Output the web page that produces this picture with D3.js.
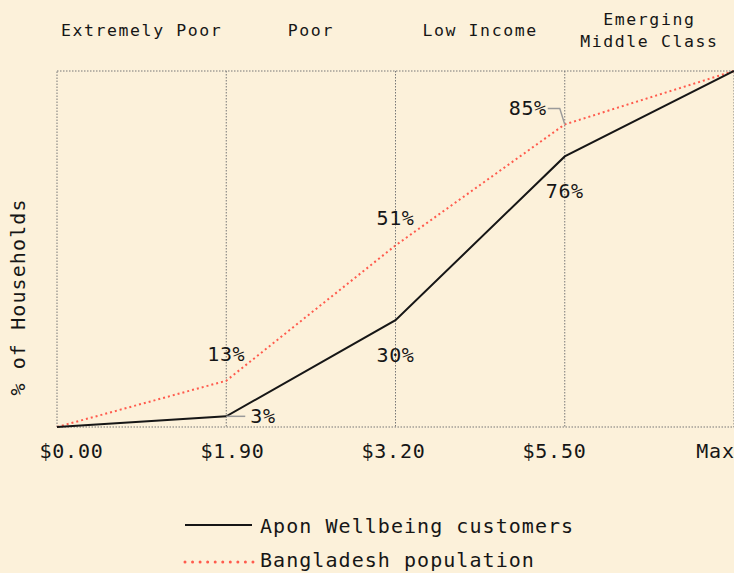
<!DOCTYPE html>
<html><head><meta charset="utf-8">
<script src="https://cdn.jsdelivr.net/npm/d3@7"></script>
<style>
html,body{margin:0;padding:0;background:#fcf1da;}
svg{display:block;font-family:"DejaVu Sans Mono",monospace;}
</style></head><body>
<svg id="c" width="734" height="573"></svg>
<script>
const xLabels = ["$0.00","$1.90","$3.20","$5.50","Max"];
const categories = [["Extremely Poor"],["Poor"],["Low Income"],["Emerging","Middle Class"]];
const aponValues = [0,3,30,76,100];
const bdValues = [0,13,51,85,100];
const seriesNames = ["Apon Wellbeing customers","Bangladesh population"];

const svg = d3.select("#c");
const m={l:57,r:734,t:71,b:427};
const x = d3.scalePoint().domain(xLabels).range([m.l,m.r]);
const xText = d3.scalePoint().domain(xLabels).range([71,715]);
const y = d3.scaleLinear().domain([0,100]).range([m.b,m.t]);
const red="#ff5b4d", ink="#161616";

// frame
svg.append("rect").attr("x",m.l).attr("y",m.t).attr("width",m.r-m.l).attr("height",m.b-m.t)
 .attr("fill","none").attr("stroke","#777").attr("stroke-width",1).attr("stroke-dasharray","1.5,1.5");
// vertical grid
svg.append("g").selectAll("line").data(xLabels.slice(1,4)).join("line")
 .attr("x1",d=>x(d)).attr("x2",d=>x(d)).attr("y1",m.t).attr("y2",m.b)
 .attr("stroke","#777").attr("stroke-width",1).attr("stroke-dasharray","1.5,1.5");

// x axis labels
const xa = d3.axisBottom(xText).tickSize(0).tickPadding(17);
const gx = svg.append("g").attr("transform",`translate(0,${m.b})`).call(xa);
gx.select(".domain").remove();
gx.selectAll("text").attr("font-size",20).attr("letter-spacing",0.8).attr("fill",ink)
 .attr("font-family","'DejaVu Sans Mono',monospace");

// categories
categories.forEach((c,i)=>{
  const cx=(x(xLabels[i])+x(xLabels[i+1]))/2;
  const t=svg.append("text").attr("x",cx).attr("text-anchor","middle").attr("font-size",16.5)
   .attr("letter-spacing",1.6).attr("fill",ink);
  if(c.length===1){t.attr("y",36).text(c[0]);}
  else{
    c.forEach((s,j)=>t.append("tspan").attr("x",cx).attr("y",25+j*22).text(s));
  }
});

// y label
svg.append("text").attr("transform",`translate(25,${(m.t+m.b)/2+48}) rotate(-90)`)
 .attr("text-anchor","middle").attr("font-size",20).attr("letter-spacing",1.1).attr("fill",ink)
 .text("% of Households");

const line = d3.line().x((d,i)=>x(xLabels[i])).y(d=>y(d));
svg.append("path").datum(bdValues).attr("d",line).attr("fill","none").attr("stroke",red)
 .attr("stroke-width",2).attr("stroke-dasharray","2,3");
svg.append("path").datum(aponValues).attr("d",line).attr("fill","none").attr("stroke",ink)
 .attr("stroke-width",2);

// leader lines
const lg="#9a9a9a";
svg.append("path").attr("d",`M${x(xLabels[1])},${y(aponValues[1])}H${x(xLabels[1])+19}`)
 .attr("stroke",lg).attr("stroke-width",1.5).attr("fill","none");
svg.append("path").attr("d",`M${x(xLabels[3])},${y(bdValues[3])}L${x(xLabels[3])-5},${y(bdValues[3])-16}H${x(xLabels[3])-17}`)
 .attr("stroke",lg).attr("stroke-width",1.5).attr("fill","none");

// value labels
const lab=(tx,ty,txt,anchor)=>svg.append("text").attr("x",tx).attr("y",ty).attr("text-anchor",anchor)
 .attr("font-size",20).attr("letter-spacing",0.6).attr("fill",ink).text(txt);
lab(x(xLabels[1]),y(bdValues[1])-20,bdValues[1]+"%","middle");
lab(x(xLabels[1])+24,y(aponValues[1])+7,aponValues[1]+"%","start");
lab(x(xLabels[2]),y(aponValues[2])+42,aponValues[2]+"%","middle");
lab(x(xLabels[2]),y(bdValues[2])-20,bdValues[2]+"%","middle");
lab(x(xLabels[3])-18,y(bdValues[3])-9,bdValues[3]+"%","end");
lab(x(xLabels[3]),y(aponValues[3])+42,aponValues[3]+"%","middle");

// legend
const lgY=[525,562];
svg.append("line").attr("x1",185).attr("x2",252).attr("y1",lgY[0]).attr("y2",lgY[0]).attr("stroke",ink).attr("stroke-width",2);
svg.append("line").attr("x1",185).attr("x2",253).attr("y1",lgY[1]).attr("y2",lgY[1]).attr("stroke",red).attr("stroke-width",3).attr("stroke-dasharray","0,7.55").attr("stroke-linecap","round");
svg.append("text").attr("x",260).attr("y",lgY[0]+8).attr("font-size",20)
 .attr("letter-spacing",1.05).attr("fill",ink).text(seriesNames[0]);
svg.append("text").attr("x",260).attr("y",lgY[1]+5).attr("font-size",20)
 .attr("letter-spacing",1.05).attr("fill",ink).text(seriesNames[1]);
</script></body></html>
